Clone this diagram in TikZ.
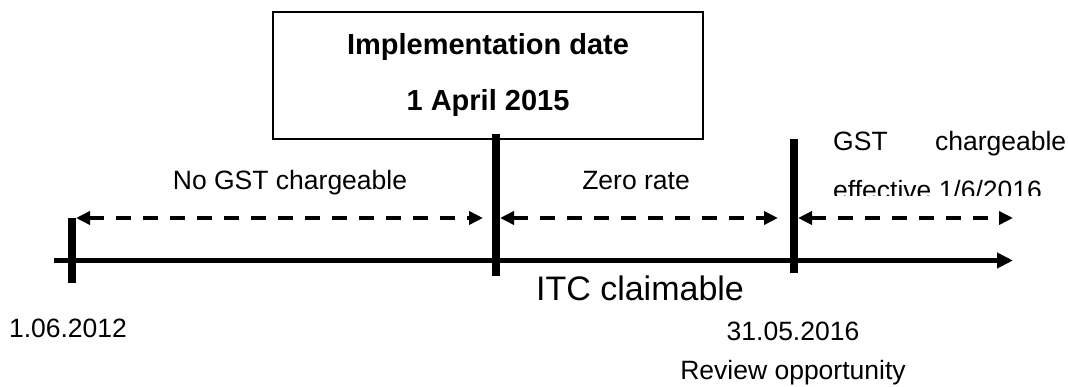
\documentclass[tikz,border=0pt]{standalone}
\usepackage{fontspec}
\setmainfont{Liberation Sans}
\usetikzlibrary{arrows.meta}
\tikzset{
  tick/.style={line width=7.5pt},
  axisline/.style={line width=5pt,-{Triangle[length=16pt,width=15pt]}},
  period/.style={line width=4pt,dash pattern=on 15pt off 12pt,
     {Triangle[length=14pt,width=13pt]}-{Triangle[length=14pt,width=13pt]}},
  lbl/.style={inner sep=0pt,font=\fontsize{26.5}{30}\selectfont},
}
\begin{document}
\begin{tikzpicture}[x=1pt,y=-1pt]
\useasboundingbox (0,0) rectangle (1068,387);
% implementation box
\node[draw,line width=2pt,minimum width=430pt,minimum height=127pt,inner sep=0pt,
      align=center,font=\fontsize{29}{56}\selectfont\bfseries] (box) at (488,75.5)
      {Implementation date\\1 April 2015};
% axis
\coordinate (ax0) at (54,260.5);
\coordinate (ax1) at (1013,260.5);
\draw[axisline] (ax0) -- (ax1);
% ticks
\coordinate (t1a) at (72,218); \coordinate (t1b) at (72,283);
\coordinate (t2a) at (496,134); \coordinate (t2b) at (496,276);
\coordinate (t3a) at (794,139); \coordinate (t3b) at (794,273);
\draw[tick] (t1a) -- (t1b);
\draw[tick] (t2a) -- (t2b);
\draw[tick] (t3a) -- (t3b);
% periods
\coordinate (p1a) at (76,218); \coordinate (p1b) at (483,218);
\coordinate (p2a) at (500,218); \coordinate (p2b) at (778,218);
\coordinate (p3a) at (798,218); \coordinate (p3b) at (1013,218);
\draw[period] (p1a) -- (p1b);
\draw[period] (p2a) -- (p2b);
\draw[period] (p3a) -- (p3b);
% labels
\node[lbl,anchor=base] (nogst) at (290,190) {No GST chargeable};
\node[lbl,anchor=base] (zero) at (636,190) {Zero rate};
\node[lbl,anchor=base west] (gst) at (833,151) {\makebox[233pt][s]{GST chargeable}};
\begin{scope}
\clip (820,160) rectangle (1068,196);
\node[lbl,anchor=base west] (eff) at (833,200) {effective 1/6/2016};
\end{scope}
\node[inner sep=0pt,anchor=base,font=\fontsize{34}{38}\selectfont] (itc) at (640,301) {ITC claimable};
\node[lbl,anchor=base] (d1) at (68,337) {1.06.2012};
\node[lbl,anchor=base] (d2) at (793,341) {31.05.2016};
\node[lbl,anchor=base] (rev) at (793,379) {Review opportunity};
\end{tikzpicture}
\end{document}
